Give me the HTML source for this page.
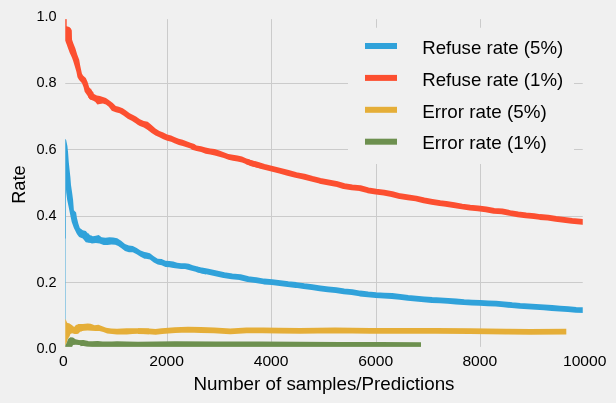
<!DOCTYPE html>
<html><head><meta charset="utf-8"><style>
html,body{margin:0;padding:0;background:#f0f0f0;}
svg{display:block;}
text{font-family:"Liberation Sans",sans-serif;fill:#000;}
.tk{font-size:14.5px;}
.lg{font-size:18.2px;}
.lb{font-size:18.2px;}
</style></head><body>
<svg width="616" height="403" viewBox="0 0 616 403">
<defs><clipPath id="ax"><rect x="63.30" y="17.17" width="521.40" height="331.66"/></clipPath></defs>
<rect x="0" y="0" width="616" height="403" fill="#f0f0f0"/>
<line x1="167.5" y1="17.17" x2="167.5" y2="348.83" stroke="#cbcbcb" stroke-width="1"/>
<line x1="271.5" y1="17.17" x2="271.5" y2="348.83" stroke="#cbcbcb" stroke-width="1"/>
<line x1="376.5" y1="17.17" x2="376.5" y2="348.83" stroke="#cbcbcb" stroke-width="1"/>
<line x1="480.5" y1="17.17" x2="480.5" y2="348.83" stroke="#cbcbcb" stroke-width="1"/>
<line x1="63.3" y1="83.5" x2="584.7" y2="83.5" stroke="#cbcbcb" stroke-width="1"/>
<line x1="63.3" y1="149.5" x2="584.7" y2="149.5" stroke="#cbcbcb" stroke-width="1"/>
<line x1="63.3" y1="216.5" x2="584.7" y2="216.5" stroke="#cbcbcb" stroke-width="1"/>
<line x1="63.3" y1="282.5" x2="584.7" y2="282.5" stroke="#cbcbcb" stroke-width="1"/>
<g clip-path="url(#ax)" stroke-linejoin="round" stroke-linecap="butt">
<rect x="62" y="185" width="3.6" height="164" fill="#30a2da"/>
<rect x="62" y="185" width="4.0" height="53.5" fill="#30a2da"/>
<polygon points="62.0,139.5 64.5,138.4 66.1,139.8 67.4,145.9 68.1,152.7 68.8,162.2 69.5,169.0 70.4,177.2 71.0,185.0 72.1,192.4 73.1,199.9 73.9,210.3 76.1,212.5 76.9,217.7 78.3,223.6 79.8,228.1 82.8,230.3 85.8,231.0 88.0,233.6 90.2,235.8 92.0,235.8 92.0,242.6 88.7,242.8 85.8,242.2 82.8,238.5 79.1,237.0 76.9,234.0 73.9,228.1 71.7,222.1 70.2,214.7 68.7,207.3 67.2,199.9 66.2,192.4 65.7,185.0 62.0,185.0" fill="#30a2da"/>
<polygon points="88.0,232.9 90.0,235.3 92.9,236.3 95.8,235.8 98.7,235.0 101.6,237.3 105.5,237.7 109.4,237.3 113.3,237.5 117.2,238.2 121.1,240.7 125.0,244.1 128.9,245.5 132.8,246.0 136.7,248.0 140.6,250.4 144.5,251.9 146.0,252.3 149.9,253.3 153.8,256.2 157.7,258.7 161.6,259.1 165.5,260.8 169.4,261.1 173.3,261.6 177.2,262.7 181.1,263.3 185.0,263.3 188.8,263.7 192.7,265.3 196.6,266.3 200.5,267.9 206.0,268.9 206.0,274.4 200.5,273.3 196.6,272.1 192.7,271.1 188.8,269.9 185.0,268.9 181.1,268.9 177.2,268.6 173.3,267.9 169.4,267.2 165.5,266.9 161.6,265.3 157.7,264.5 153.8,262.6 149.9,259.6 146.0,258.7 144.5,258.7 140.6,256.7 136.7,254.3 132.8,252.3 128.9,252.3 125.0,250.9 121.1,248.0 118.2,246.0 115.3,244.7 111.4,244.6 107.5,245.0 103.6,245.0 99.7,243.6 95.8,243.1 91.9,243.6 88.0,242.1" fill="#30a2da"/>
<polyline points="196.6,269.2 200.0,270.0 208.0,271.6 216.0,273.3 224.0,275.1 232.0,276.3 240.0,277.1 248.0,279.1 256.0,280.2 264.0,281.5 272.0,282.2 280.0,283.1 288.0,284.2 296.0,285.0 304.0,286.2 312.0,287.2 320.0,288.3 328.0,289.3 336.0,290.2 344.0,291.3 352.0,292.2 360.0,293.5 368.0,294.4 376.0,295.1 384.0,295.6 392.0,296.0 400.0,296.8 408.0,297.8 416.0,298.6 424.0,299.3 432.0,300.0 440.0,300.4 448.0,300.9 456.0,301.5 464.0,302.2 472.0,302.6 480.0,302.9 488.0,303.3 496.0,303.6 504.0,304.3 512.0,305.2 520.0,305.9 528.0,306.3 536.0,306.8 544.0,307.3 552.0,308.0 560.0,308.6 568.0,309.2 576.0,309.8 587.0,310.3" fill="none" stroke="#30a2da" stroke-width="5.8"/>
<polygon points="62.0,17.2 66.7,17.2 66.7,26.2 69.3,27.1 70.9,28.4 71.8,30.6 72.0,39.6 73.2,42.9 75.4,48.5 77.2,54.5 79.2,59.8 80.3,66.1 81.9,73.4 83.0,75.6 85.8,77.9 87.5,81.8 89.2,87.3 91.4,90.1 93.5,92.6 93.5,100.4 91.5,99.8 89.7,99.0 87.0,95.1 84.7,91.8 83.6,87.3 81.9,82.9 79.1,80.1 77.5,77.3 76.4,71.7 74.7,66.1 73.0,60.6 71.9,57.4 69.8,52.9 68.1,48.5 66.5,44.0 65.1,40.7 62.0,40.7" fill="#fc4f30"/>
<polygon points="88.0,90.0 91.0,88.5 92.0,92.0 94.0,94.0 96.9,95.4 99.9,95.9 102.9,96.9 105.9,97.9 108.8,99.9 112.8,102.9 115.8,105.9 118.8,106.8 122.7,108.3 125.7,110.3 129.7,113.3 133.6,115.3 136.0,116.6 139.9,119.3 143.8,121.0 147.7,121.7 151.6,125.1 155.5,128.6 159.4,131.0 163.3,132.4 167.2,134.4 171.1,135.4 175.0,137.3 178.8,138.8 182.7,139.8 186.6,141.2 190.5,142.7 194.4,144.1 196.5,145.4 201.1,146.3 205.6,147.4 210.2,148.6 214.7,149.1 219.3,150.6 223.8,152.3 228.4,154.0 232.9,154.8 237.5,155.5 242.0,156.6 246.5,158.5 251.1,160.2 255.6,161.9 262.0,163.6 262.0,168.8 255.6,167.3 251.1,165.9 246.5,164.2 242.0,162.5 237.5,161.4 232.9,160.8 228.4,159.7 223.8,158.0 219.3,156.8 214.7,155.4 210.2,154.5 205.6,153.7 201.1,152.0 196.5,151.1 192.0,149.7 190.5,148.5 186.6,147.2 182.7,146.1 178.8,145.1 175.0,143.6 171.1,141.7 167.2,140.7 163.3,139.3 159.4,137.3 155.5,135.4 151.6,132.9 147.7,130.0 143.8,127.6 139.9,126.1 138.0,124.9 135.6,123.2 131.7,120.7 127.7,118.8 123.7,115.8 119.7,113.3 115.8,112.3 111.8,110.8 108.8,106.8 105.9,104.4 102.9,103.4 99.9,103.9 97.4,104.4 95.4,101.9 93.0,100.4 90.0,99.4 88.0,96.9" fill="#fc4f30"/>
<polyline points="246.5,161.4 251.1,163.1 256.0,164.4 264.0,166.7 272.0,168.7 280.0,170.7 288.0,172.9 296.0,175.0 304.0,176.6 312.0,178.8 320.0,180.8 328.0,182.3 336.0,183.8 344.0,186.1 352.0,187.4 360.0,188.1 368.0,190.3 376.0,191.7 384.0,192.6 392.0,194.1 400.0,196.2 408.0,197.3 416.0,198.5 424.0,200.3 432.0,201.8 440.0,203.2 446.0,203.8 454.0,205.2 462.0,206.5 470.0,207.6 478.0,208.3 486.0,209.3 494.0,210.8 502.0,211.4 510.0,213.0 518.0,214.3 526.0,215.4 534.0,216.2 540.0,217.0 548.0,217.7 556.0,218.9 564.0,219.8 572.0,220.9 580.0,221.7 587.0,222.4" fill="none" stroke="#fc4f30" stroke-width="5.8"/>
<polygon points="62.0,319.0 65.8,319.4 67.1,322.8 69.6,323.6 72.1,325.3 74.2,327.0 75.9,324.9 78.9,324.0 82.0,324.0 82.0,331.2 80.1,331.6 78.9,333.3 77.2,334.1 74.7,334.1 72.1,333.3 70.4,334.1 69.6,336.3 67.9,338.8 66.6,343.0 65.2,346.0 62.0,348.0" fill="#e5ae38"/>
<polygon points="78.0,324.3 82.9,324.0 87.7,323.4 90.7,323.8 94.6,325.3 98.4,324.8 102.3,326.3 106.2,327.7 111.1,328.5 117.0,328.7 121.8,328.5 126.7,328.2 132.5,328.2 138.0,328.3 149.0,328.6 149.0,334.2 138.0,333.8 132.5,334.1 126.7,334.4 121.8,334.4 117.0,334.4 112.1,334.1 107.2,333.4 103.3,332.1 99.4,331.1 95.5,331.1 91.6,330.7 87.7,330.5 83.8,330.7 80.0,331.6 78.0,332.0" fill="#e5ae38"/>
<polyline points="138.0,331.1 149.0,331.4 155.5,331.8 162.0,331.1 168.5,330.7 175.0,330.2 188.0,329.7 201.0,330.0 214.0,330.3 230.2,331.3 246.5,330.4 262.7,330.3 278.9,330.6 300.0,330.9 335.0,330.4 370.0,330.8 436.0,330.9 470.0,331.2 506.0,331.6 530.0,331.8 566.3,331.6" fill="none" stroke="#e5ae38" stroke-width="5.8"/>
<polygon points="62.0,346.0 65.4,345.5 66.6,343.0 68.3,338.8 70.4,337.3 73.0,337.5 75.5,339.2 78.9,340.0 82.0,340.6 82.0,345.5 78.9,345.1 75.5,344.7 73.0,345.1 72.1,347.0 62.0,347.0" fill="#6d904f"/>
<polyline points="80.0,343.3 82.9,342.8 87.7,343.8 92.6,344.1 97.5,343.8 102.3,344.3 107.2,344.5 112.1,344.3 117.0,344.1 126.7,344.3 138.0,344.6 175.0,344.1 216.0,344.4 260.0,344.5 300.0,344.7 340.0,344.8 380.0,345.0 421.0,345.1" fill="none" stroke="#6d904f" stroke-width="5.8"/>
</g>
<rect x="63.3" y="17.17" width="521.40" height="331.66" fill="none" stroke="#f0f0f0" stroke-width="3.9"/>
<rect x="348" y="27.8" width="226" height="136.2" rx="4" fill="#f0f0f0"/>
<g style="will-change:transform">
<rect x="365" y="43.0" width="32" height="6" fill="#30a2da"/>
<text x="422.2" y="53.7" class="lg" textLength="141" lengthAdjust="spacingAndGlyphs">Refuse rate (5%)</text>
<rect x="365" y="74.9" width="32" height="6" fill="#fc4f30"/>
<text x="422.2" y="85.6" class="lg" textLength="141" lengthAdjust="spacingAndGlyphs">Refuse rate (1%)</text>
<rect x="365" y="106.8" width="32" height="6" fill="#e5ae38"/>
<text x="422.2" y="117.5" class="lg" textLength="124.5" lengthAdjust="spacingAndGlyphs">Error rate (5%)</text>
<rect x="365" y="138.7" width="32" height="6" fill="#6d904f"/>
<text x="422.2" y="149.4" class="lg" textLength="124.5" lengthAdjust="spacingAndGlyphs">Error rate (1%)</text>
</g>
<g style="will-change:transform">
<text x="63.3" y="366" class="tk" text-anchor="middle" transform="translate(63.3,0) scale(1.08,1) translate(-63.3,0)">0</text>
<text x="166.6" y="366" class="tk" text-anchor="middle" transform="translate(166.6,0) scale(1.08,1) translate(-166.6,0)">2000</text>
<text x="271.1" y="366" class="tk" text-anchor="middle" transform="translate(271.1,0) scale(1.08,1) translate(-271.1,0)">4000</text>
<text x="375.7" y="366" class="tk" text-anchor="middle" transform="translate(375.7,0) scale(1.08,1) translate(-375.7,0)">6000</text>
<text x="479.8" y="366" class="tk" text-anchor="middle" transform="translate(479.8,0) scale(1.08,1) translate(-479.8,0)">8000</text>
<text x="584.7" y="366" class="tk" text-anchor="middle" transform="translate(584.7,0) scale(1.08,1) translate(-584.7,0)">10000</text>
<text x="56.6" y="352.7" class="tk" text-anchor="end" transform="translate(56.6,0) scale(1.0,1) translate(-56.6,0)">0.0</text>
<text x="56.6" y="286.5" class="tk" text-anchor="end" transform="translate(56.6,0) scale(1.0,1) translate(-56.6,0)">0.2</text>
<text x="56.6" y="219.5" class="tk" text-anchor="end" transform="translate(56.6,0) scale(1.0,1) translate(-56.6,0)">0.4</text>
<text x="56.6" y="153.7" class="tk" text-anchor="end" transform="translate(56.6,0) scale(1.0,1) translate(-56.6,0)">0.6</text>
<text x="56.6" y="86.6" class="tk" text-anchor="end" transform="translate(56.6,0) scale(1.0,1) translate(-56.6,0)">0.8</text>
<text x="56.6" y="20.6" class="tk" text-anchor="end" transform="translate(56.6,0) scale(1.0,1) translate(-56.6,0)">1.0</text>
<text x="193.5" y="390" class="lb" textLength="261" lengthAdjust="spacingAndGlyphs">Number of samples/Predictions</text>
<text transform="translate(24.8,184.6) rotate(-90)" class="lb" text-anchor="middle">Rate</text>
</g>
</svg>
</body></html>
